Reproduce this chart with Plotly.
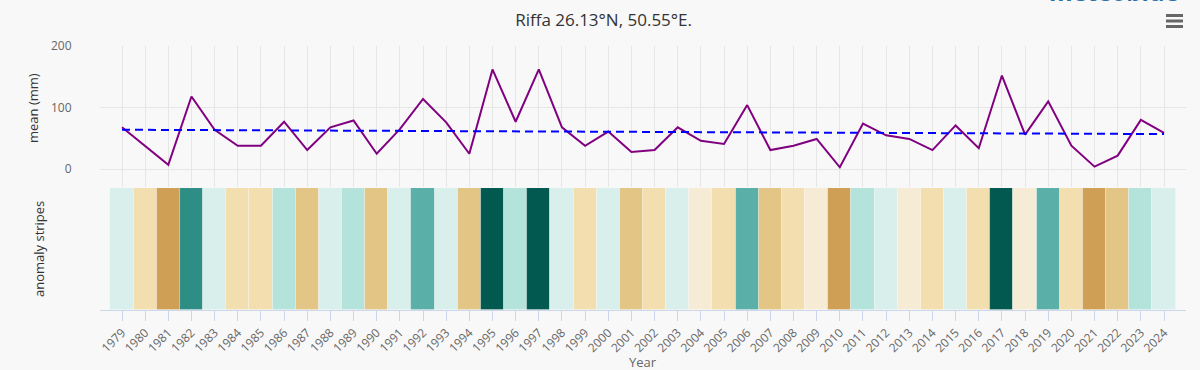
import plotly.graph_objects as go

# ---------------- data ----------------
years = list(range(1979, 2025))
mean_mm = [68, 37, 7, 118, 64, 38, 38, 77, 31, 68,
           79, 25, 65, 114, 76, 25, 162, 77, 162, 68,
           38, 61, 28, 31, 68, 46, 41, 104, 31, 38,
           49, 3, 74, 55, 49, 31, 71, 34, 152, 56,
           110, 38, 4, 22, 80, 59]
trend_years = [1979, 2024]
trend_mm = [64, 57]
# anomaly class per year (0 = driest ... 8 = wettest)
anomaly_class = [4, 2, 0, 7, 4, 2, 2, 5, 1, 4,
                 5, 1, 4, 6, 4, 1, 8, 5, 8, 4,
                 2, 4, 1, 2, 4, 3, 2, 6, 1, 2,
                 3, 0, 5, 4, 3, 2, 4, 2, 8, 3,
                 6, 2, 0, 1, 5, 4]
stripe_palette = ["#cf9f55", "#e3c585", "#f2deae", "#f6ecd5", "#d8efec",
                  "#b4e3dc", "#5ab0a8", "#2e8d84", "#01594f"]
y_ticks = [0, 100, 200]
title_text = "Riffa 26.13°N, 50.55°E."

# ---------------- layout helpers ----------------
W, H = 1200, 370
L, R, T, B = 100, 1186, 46, 310
FONT = "Open Sans, DejaVu Sans, sans-serif"
BG = "#f8f8f8"


def px_x(px):
    return (px - L) / (R - L)


def px_y(py):
    return (B - py) / (B - T)


stripe_colors = [stripe_palette[c] for c in anomaly_class]

fig = go.Figure()

fig.add_trace(go.Bar(
    x=years, y=[1] * len(years), width=1,
    marker=dict(color=stripe_colors, line=dict(width=0.8, color="rgba(255,255,255,0.35)")),
    xaxis="x2", yaxis="y2", hoverinfo="x", showlegend=False,
))
fig.add_trace(go.Scatter(
    x=years, y=mean_mm, mode="lines",
    line=dict(color="#800080", width=2),
    xaxis="x", yaxis="y", showlegend=False,
))
fig.add_trace(go.Scatter(
    x=trend_years, y=trend_mm, mode="lines",
    line=dict(color="#0000ff", width=2, dash="8px,5px"),
    xaxis="x", yaxis="y", showlegend=False,
))

xr = [1978.05, 2024.95]
top_domain = [px_y(187), 1]
bot_domain = [0, px_y(188)]

fig.update_layout(
    width=W, height=H,
    margin=dict(l=L, r=W - R, t=T, b=H - B, pad=0, autoexpand=False),
    paper_bgcolor=BG, plot_bgcolor=BG,
    font=dict(family=FONT, color="#666666"),
    bargap=0,
    title=dict(text=title_text, x=0.503, xref="container", xanchor="center",
               y=1 - 20 / H, yref="container", yanchor="middle",
               font=dict(size=17, color="#333333", family=FONT)),
    xaxis=dict(domain=[0, 1], anchor="y", range=xr, tickvals=years,
               showticklabels=False, ticks="", showgrid=True, automargin=False,
               gridcolor="#e6e6e6", gridwidth=1, zeroline=False, showline=False),
    yaxis=dict(domain=top_domain, anchor="x", range=[-29, 200], tickvals=y_ticks,
               showgrid=True, gridcolor="#e6e6e6", gridwidth=1, zeroline=False,
               ticks="outside", ticklen=25, tickcolor="rgba(0,0,0,0)", automargin=False,
               tickfont=dict(size=12, color="#666666", family=FONT), showline=False),
    xaxis2=dict(domain=[0, 1], anchor="y2", range=xr, tickvals=years,
                ticktext=[str(y) for y in years], tickangle=-45, automargin=False,
                ticks="outside", ticklen=10, tickcolor="#ccd6eb", tickwidth=1,
                showline=True, linecolor="#ccd6eb", linewidth=1,
                showgrid=False, zeroline=False,
                tickfont=dict(size=12, color="#666666", family=FONT)),
    yaxis2=dict(domain=bot_domain, anchor="x2", range=[0, 1], showticklabels=False,
                automargin=False,
                showgrid=False, zeroline=False, ticks="", showline=False),
    annotations=[
        dict(text="mean (mm)", textangle=-90, xref="paper", yref="paper",
             x=px_x(33), y=px_y(108), xanchor="center", yanchor="middle",
             showarrow=False, font=dict(size=13, color="#333333", family=FONT)),
        dict(text="anomaly stripes", textangle=-90, xref="paper", yref="paper",
             x=px_x(39), y=px_y(249), xanchor="center", yanchor="middle",
             showarrow=False, font=dict(size=13, color="#333333", family=FONT)),
        dict(text="Year", xref="paper", yref="paper",
             x=px_x(643), y=px_y(362), xanchor="center", yanchor="middle",
             showarrow=False, font=dict(size=13, color="#666666", family=FONT)),
        dict(text="<b>meteoblue</b>", xref="paper", yref="paper",
             x=px_x(1181), y=px_y(10), xanchor="right", yanchor="bottom",
             showarrow=False, font=dict(size=24, color="#2a6ea6", family=FONT)),
    ],
    shapes=[
        dict(type="line", xref="paper", yref="paper",
             x0=px_x(1166), x1=px_x(1183), y0=px_y(py), y1=px_y(py),
             line=dict(color="#666666", width=3))
        for py in (15.5, 21, 26.5)
    ],
)

fig.write_html(
    "out.html",
    config={"displayModeBar": False},
    post_script="document.body.style.margin='0';document.body.style.background='%s';" % BG,
)
